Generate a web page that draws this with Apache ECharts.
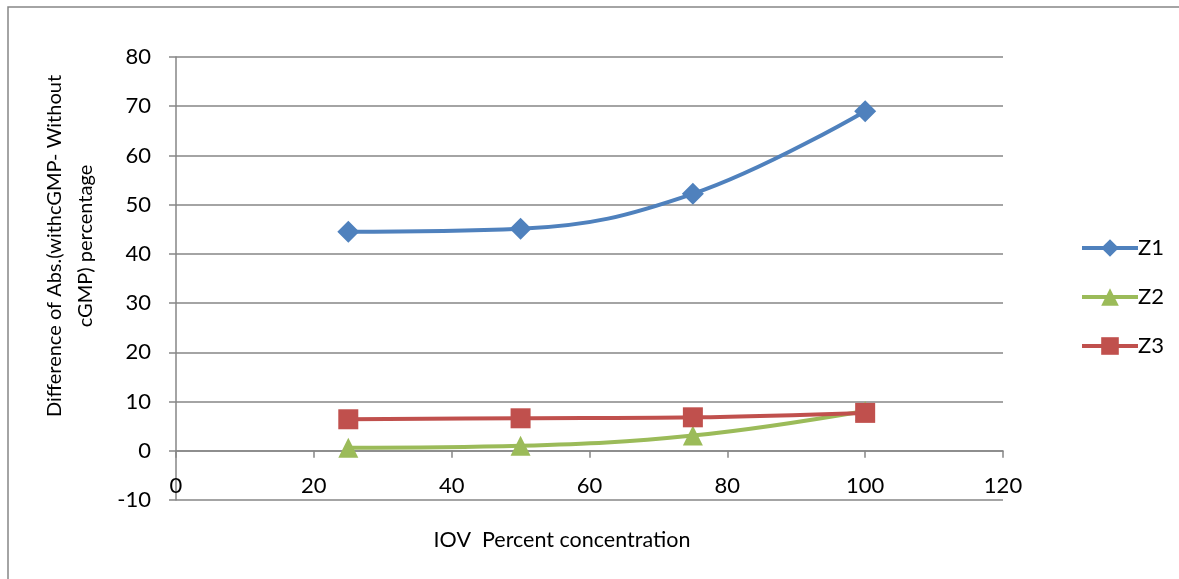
<!DOCTYPE html>
<html>
<head>
<meta charset="utf-8">
<script src="https://cdn.jsdelivr.net/npm/echarts@6/dist/echarts.min.js"></script>
<style>html,body{margin:0;padding:0;background:#fff;}#c{width:1179px;height:579px;}</style>
</head>
<body>
<div id="c"></div>
<script>
const xValues = [25, 50, 75, 100];
const z1 = [44.5, 45.1, 52.2, 69.0];
const z2 = [0.6, 1.0, 3.1, 8.1];
const z3 = [6.4, 6.6, 6.8, 7.7];
const seriesNames = ['Z1', 'Z2', 'Z3'];
const xTitle = 'IOV  Percent concentration';
const yTitle = 'Difference of Abs.(withcGMP- Without\ncGMP) percentage';

const font = 'Lato, "Open Sans", sans-serif';
const gray = '#868686';
const pairs = v => xValues.map((x, i) => [x, v[i]]);

const chart = echarts.init(document.getElementById('c'));
chart.setOption({
  animation: false,
  textStyle: { fontFamily: font },
  grid: { left: 176, right: 176, top: 57, bottom: 79, containLabel: false },
  xAxis: {
    type: 'value', min: 0, max: 120, interval: 20,
    axisLine: { show: true, onZero: true, onZeroAxisIndex: 0, lineStyle: { color: gray, width: 1.5 } },
    axisTick: { show: true, inside: false, length: 7, lineStyle: { color: gray, width: 1.5 } },
    axisLabel: { color: '#000', fontSize: 22, fontFamily: font, margin: -25 },
    splitLine: { show: false }
  },
  yAxis: {
    type: 'value', min: -10, max: 80, interval: 10,
    axisLine: { show: true, onZero: false, lineStyle: { color: gray, width: 1.5 } },
    axisTick: { show: true, inside: false, length: 7, lineStyle: { color: gray, width: 1.5 } },
    axisLabel: { color: '#000', fontSize: 22, fontFamily: font, margin: 25 },
    splitLine: { show: true, lineStyle: { color: gray, width: 1.5 } }
  },
  legend: {
    orient: 'vertical', left: 1075, top: 232,
    itemWidth: 56, itemHeight: 22, itemGap: 27,
    lineStyle: { width: 4 },
    textStyle: { color: '#000', fontSize: 22, fontFamily: font, padding: [0, 0, 0, -5] },
    data: seriesNames
  },
  graphic: [
    { type: 'rect', shape: { x: 8, y: 7, width: 1400, height: 800 }, style: { fill: 'none', stroke: gray, lineWidth: 1.5 }, silent: true },
    { type: 'text', x: 70, y: 246, rotation: Math.PI / 2, style: { text: yTitle, fill: '#000', font: '20px ' + font, align: 'center', verticalAlign: 'middle', lineHeight: 31 } },
    { type: 'text', x: 562, y: 540, style: { text: xTitle, fill: '#000', font: '21.5px ' + font, align: 'center', verticalAlign: 'middle' } }
  ],
  series: [
    { name: seriesNames[0], type: 'line', smooth: 0.4, data: pairs(z1), symbol: 'diamond', symbolSize: 22,
      lineStyle: { color: '#4F81BD', width: 4 }, itemStyle: { color: '#4F81BD' } },
    { name: seriesNames[1], type: 'line', smooth: 0.4, data: pairs(z2), symbol: 'triangle', symbolSize: 20,
      lineStyle: { color: '#9BBB59', width: 4 }, itemStyle: { color: '#9BBB59' } },
    { name: seriesNames[2], type: 'line', smooth: 0.4, data: pairs(z3), symbol: 'rect', symbolSize: 20, z: 3,
      lineStyle: { color: '#C0504D', width: 4 }, itemStyle: { color: '#C0504D' } }
  ]
});
</script>
</body>
</html>
